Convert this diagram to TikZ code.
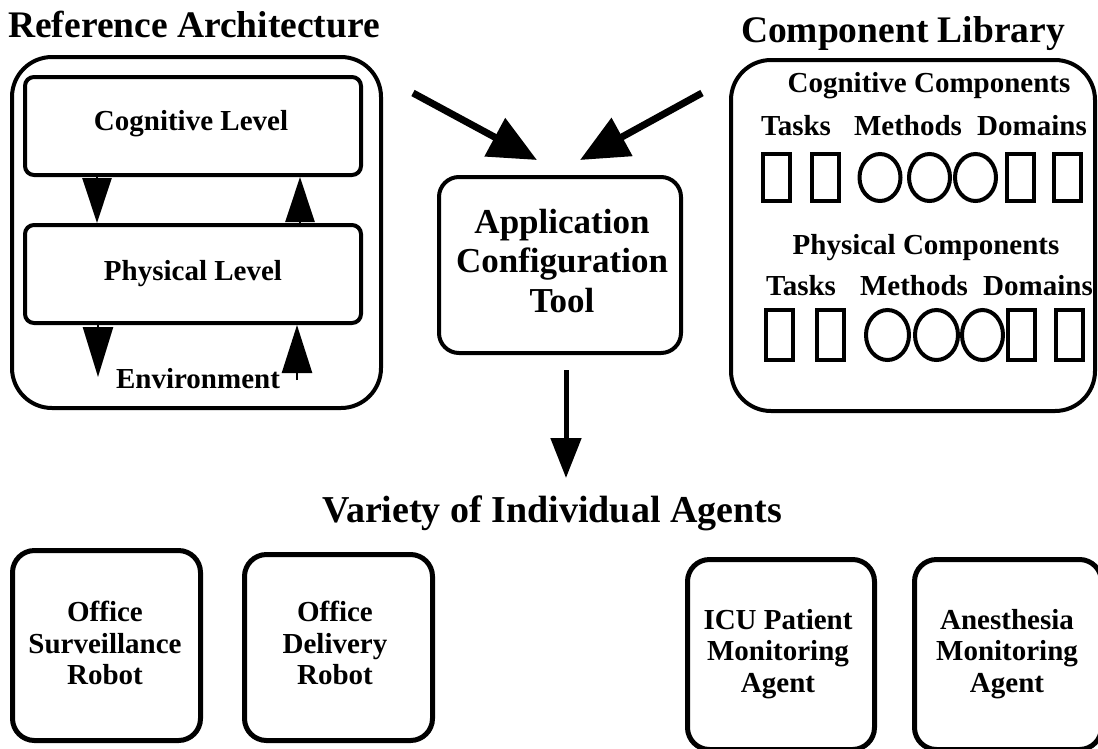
\documentclass[tikz,border=0pt]{standalone}
\usepackage{fontspec}
\setmainfont{Liberation Serif}
\usetikzlibrary{arrows.meta,shapes.geometric}
\begin{document}
\begin{tikzpicture}[x=1pt,y=-1pt,
  frame/.style={draw,line width=4pt,rounded corners=40pt,inner sep=0pt},
  levbox/.style={draw,line width=4pt,rounded corners=9pt,inner sep=0pt,minimum width=336pt,minimum height=98pt},
  agentbox/.style={draw,line width=5pt,rounded corners=22pt,inner sep=0pt},
  tt/.style={font=\bfseries\fontsize{29}{31.5}\selectfont,inner sep=0pt},
  title/.style={font=\bfseries\fontsize{37.5}{40}\selectfont,inner sep=0pt,anchor=base},
  sq/.style={draw,line width=4pt,inner sep=0pt,minimum width=27pt},
  ov/.style={draw,ellipse,line width=4pt,inner sep=0pt},
  fat/.style={-{Triangle[length=45pt,width=29pt]},line width=2.5pt},
  thick7/.style={-{Triangle[length=48pt,width=42pt]},line width=7pt},
  down5/.style={-{Triangle[length=40pt,width=30pt]},line width=5pt}]
\clip (0,0) rectangle (1098,748);
\useasboundingbox (0,0) rectangle (1098,748);

% titles
\node[title,anchor=base west] (t1) at (8,37) {Reference Architecture};
\node[title] (t2) at (903,42) {Component Library};
\node[font=\bfseries\fontsize{38}{40}\selectfont,inner sep=0pt,anchor=base] (t3) at (552,522) {Variety of Individual Agents};

% reference architecture
\node[frame,minimum width=369pt,minimum height=351pt] (ra) at (196.5,232.5) {};
\node[levbox] (cog) at (193,126) {};
\node[levbox] (phy) at (193,274) {};
\node[tt,anchor=base] (cogt) at (191,130) {Cognitive Level};
\node[tt,anchor=base] (phyt) at (193,280) {Physical Level};
\node[tt,anchor=base] (env) at (198,388) {Environment};
\coordinate (xa) at (97,0);
\coordinate (xb) at (300,0);
\coordinate (xc) at (98,377);
\coordinate (xd) at (297,380);
\draw[fat] (cog.south -| xa) -- (phy.north -| xa);
\draw[fat] (phy.north -| xb) -- (cog.south -| xb);
\draw[fat,-{Triangle[length=50pt,width=30pt]}] (phy.south -| xc) -- (xc);
\draw[fat,-{Triangle[length=48pt,width=30pt]}] (xd) -- (phy.south -| xd);

% component library
\node[frame,minimum width=364pt,minimum height=351pt] (cl) at (913,235.5) {};
\node[tt,anchor=base] (cc) at (929,92) {Cognitive Components};
\node[tt,anchor=base] (ta1) at (796,135) {Tasks};
\node[tt,anchor=base] (me1) at (908,135) {Methods};
\node[tt,anchor=base] (do1) at (1032,135) {Domains};
\node[sq,minimum height=47pt] (r11) at (776,177.5) {};
\node[sq,minimum height=47pt] (r12) at (825.5,177.5) {};
\node[ov,minimum width=41pt,minimum height=47pt] (e11) at (880,177.5) {};
\node[ov,minimum width=41pt,minimum height=47pt] (e12) at (929.5,177.5) {};
\node[ov,minimum width=41pt,minimum height=47pt] (e13) at (975.5,177.5) {};
\node[sq,minimum height=47pt] (r13) at (1020,177.5) {};
\node[sq,minimum height=47pt] (r14) at (1067.5,177.5) {};
\node[tt,anchor=base] (pc) at (926,254) {Physical Components};
\node[tt,anchor=base] (ta2) at (801,295) {Tasks};
\node[tt,anchor=base] (me2) at (914,295) {Methods};
\node[tt,anchor=base] (do2) at (1038,295) {Domains};
\node[sq,minimum height=50pt] (r21) at (779,335) {};
\node[sq,minimum height=50pt] (r22) at (830,335) {};
\node[ov,minimum width=43pt,minimum height=50pt] (e21) at (887.5,335) {};
\node[ov,minimum width=43pt,minimum height=50pt] (e22) at (936.5,335) {};
\node[ov,minimum width=41pt,minimum height=50pt] (e23) at (982.5,335) {};
\node[sq,minimum height=50pt] (r23) at (1021,335) {};
\node[sq,minimum height=50pt] (r24) at (1069,335) {};

% tool
\node[draw,line width=4pt,rounded corners=20pt,inner sep=0pt,minimum width=242pt,minimum height=176pt] (tool) at (560,265) {};
\node[font=\bfseries\fontsize{35}{39.5}\selectfont,align=center,inner sep=0pt] (toolt) at (562,261) {Application\\Configuration\\Tool};
\coordinate (s1) at (413,93);
\coordinate (e1) at (537,160);
\coordinate (s2) at (702,93);
\coordinate (e2) at (580,160);
\coordinate (s3) at (566,370);
\coordinate (e3) at (566,478);
\draw[thick7] (s1) -- (e1);
\draw[thick7] (s2) -- (e2);
\draw[down5] (s3) -- (e3);

% agents
\node[agentbox,minimum width=188pt,minimum height=190pt] (a1) at (106.5,645.5) {};
\node[agentbox,minimum width=188pt,minimum height=186pt] (a2) at (338.5,647.5) {};
\node[agentbox,minimum width=187pt,minimum height=190pt] (a3) at (781,654.5) {};
\node[agentbox,minimum width=187pt,minimum height=190pt] (a4) at (1008,654.5) {};
\node[tt,align=center] (a1t) at (105,643) {Office\\Surveillance\\Robot};
\node[tt,align=center] (a2t) at (335,643) {Office\\Delivery\\Robot};
\node[tt,align=center] (a3t) at (778,654) {ICU Patient\\Monitoring\\Agent};
\node[tt,align=center] (a4t) at (1007,654) {Anesthesia\\Monitoring\\Agent};
\end{tikzpicture}
\end{document}
